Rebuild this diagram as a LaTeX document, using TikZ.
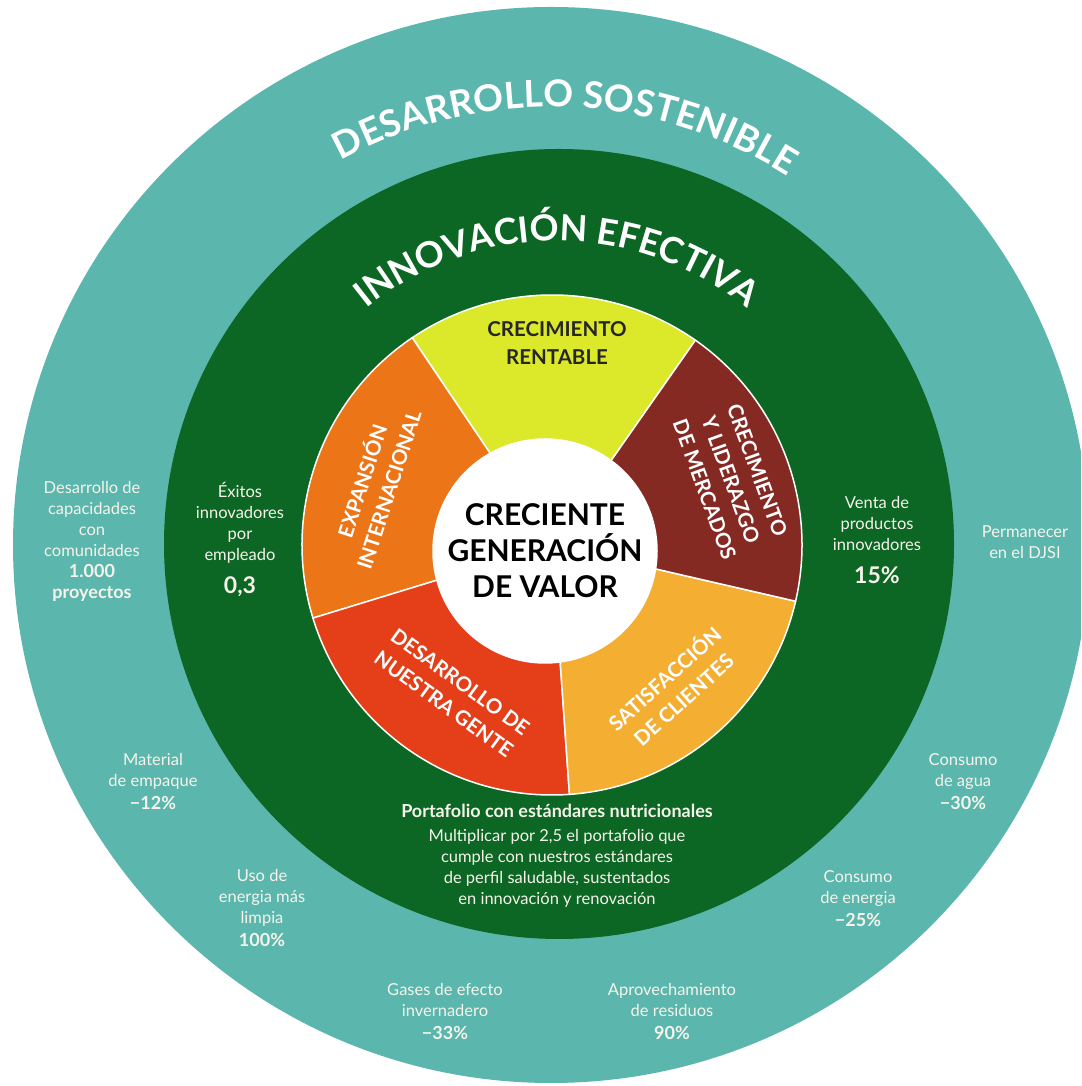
\documentclass[tikz,border=0pt]{standalone}
\usepackage{fontspec}
\setmainfont{Lato}
\usetikzlibrary{decorations.text}

\definecolor{sosteal}{HTML}{5BB6AD}
\definecolor{innogreen}{HTML}{0C6624}
\definecolor{segyellow}{HTML}{DCE82A}
\definecolor{segbrown}{HTML}{852923}
\definecolor{segamber}{HTML}{F4AF33}
\definecolor{segred}{HTML}{E43F18}
\definecolor{segorange}{HTML}{EC7517}
\definecolor{lbltext}{HTML}{F6F4EA}

\newcommand{\titlefont}{\fontsize{37}{44}\selectfont\bfseries}
\newcommand{\lblfont}{\fontsize{16.5}{21}\selectfont}
\newcommand{\numfont}{\fontsize{18}{22}\selectfont\bfseries}
\newcommand{\bignum}{\fontsize{23}{28}\selectfont\bfseries}
\newcommand{\segfont}{\fontsize{20.5}{28}\selectfont\bfseries}

\tikzset{
  lbl/.style={text=lbltext, font=\lblfont, align=center, inner sep=0pt},
  seglbl/.style={text=white, font=\segfont, align=center, inner sep=0pt},
  wedge/.style={draw=white, line width=1.5pt, line join=round},
}

\begin{document}
\begin{tikzpicture}[x=1pt,y=1pt]
\useasboundingbox (0,0) rectangle (1081,1086);
\clip (0,0) rectangle (1081,1086);

\begin{scope}{
% rings
\fill[sosteal] (551,541) circle [radius=538];
\fill[innogreen] (559,542) circle [radius=395];

% curved titles
\path[decorate, decoration={text along path, text align=center, text color=white,
  text={|\titlefont|DESARROLLO SOSTENIBLE}}]
  ([shift={(149:438)}]551,541) arc[start angle=149, end angle=27, radius=438];
\path[decorate, decoration={text along path, text align=center, text color=white,
  text={|\fontsize{36}{42}\selectfont\bfseries|INNOVACIÓN EFECTIVA}}]
  ([shift={(150:302)}]557,543) arc[start angle=150, end angle=30, radius=302];

%wedges
{
\filldraw[wedge, fill=segyellow] (552,541) -- ++(55:250) arc[start angle=55, end angle=124, radius=250] -- cycle;
\filldraw[wedge, fill=segorange] (552,541) -- ++(124:250) arc[start angle=124, end angle=197, radius=250] -- cycle;
\filldraw[wedge, fill=segred] (552,541) -- ++(197:250) arc[start angle=197, end angle=274, radius=250] -- cycle;
\filldraw[wedge, fill=segamber] (552,541) -- ++(274:250) arc[start angle=274, end angle=347, radius=250] -- cycle;
\filldraw[wedge, fill=segbrown] (552,541) -- ++(-13:250) arc[start angle=-13, end angle=55, radius=250] -- cycle;
\filldraw[wedge, fill=white] (545,535) circle [radius=112];
}

% nodes
{
\node[align=center, font=\fontsize{30}{36}\selectfont\bfseries, text=black] (valor) at (545,535) {CRECIENTE\\GENERACIÓN\\DE VALOR};

\node[seglbl, text=black!85] (rentable) at (557,743) {CRECIMIENTO\\RENTABLE};
\node[seglbl, rotate=72] (expansion) at (374,601) {EXPANSIÓN\\INTERNACIONAL};
\node[seglbl, rotate=-70] (mercados) at (731,606) {CRECIMIENTO\\Y LIDERAZGO\\DE MERCADOS};
\node[seglbl, rotate=42] (clientes) at (673,398) {SATISFACCIÓN\\DE CLIENTES};
\node[seglbl, rotate=-36] (gente) at (452,393) {DESARROLLO DE\\NUESTRA GENTE};

\node[lbl] (exitos) at (240,546) {Éxitos\\innovadores\\por\\empleado\\[12pt]{\bignum 0,3}};
\node[lbl] (venta) at (877,546) {Venta de\\productos\\innovadores\\[12pt]{\bignum 15\%}};
\node[lbl] (portafolio) at (557,230) {{\fontsize{18}{22}\selectfont\bfseries Portafolio con estándares nutricionales}\\[3pt]
  Multiplicar por 2,5 el portafolio que\\cumple con nuestros estándares\\de perfil saludable, sustentados\\en innovación y renovación};

\node[lbl] (comunidades) at (92,545) {Desarrollo de\\capacidades\\con\\comunidades\\{\numfont 1.000}\\{\numfont proyectos}};
\node[lbl] (djsi) at (1025,544) {Permanecer\\en el DJSI};
\node[lbl] (empaque) at (153,304) {Material\\de empaque\\[2pt]{\numfont −12\%}};
\node[lbl] (limpia) at (262,178) {Uso de\\energia más\\limpia\\[2pt]{\numfont 100\%}};
\node[lbl] (gases) at (445,74) {Gases de efecto\\invernadero\\[2pt]{\numfont −33\%}};
\node[lbl] (residuos) at (672,74) {Aprovechamiento\\de residuos\\[2pt]{\numfont 90\%}};
\node[lbl] (energia) at (858,187) {Consumo\\de energia\\[2pt]{\numfont −25\%}};
\node[lbl] (agua) at (963,304) {Consumo\\de agua\\[2pt]{\numfont −30\%}};
}

} \end{scope}

\end{tikzpicture}
\end{document}
